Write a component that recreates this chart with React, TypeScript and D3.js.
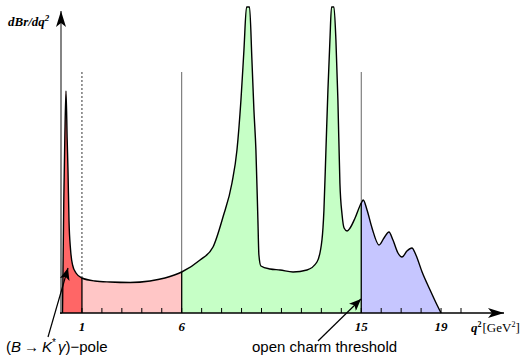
import * as d3 from "d3";
import {useRef, useEffect} from "react";

// curve (q^2 in GeV^2, dBr/dq^2 in arbitrary units)
const curveQ = [
  0.025, 0.05, 0.09, 0.14, 0.2, 0.26, 0.3, 0.35, 0.43, 0.53, 0.7, 1.0,
  1.65, 2.41, 3.41, 4.41, 5.16, 6.0,
  6.92, 7.57, 8.07, 8.52, 8.77, 8.97, 9.12, 9.25, 9.4, 9.52, 9.62, 9.72, 9.82, 9.87, 9.97,
  10.43, 10.93, 11.58, 12.28, 12.78, 13.03, 13.13, 13.23, 13.33, 13.43, 13.51, 13.63, 13.73,
  13.83, 13.93, 14.04, 14.14, 14.29, 14.44, 14.69, 15.0,
  15.1, 15.29, 15.54, 15.89, 16.14, 16.39, 16.59, 16.84, 17.04, 17.29, 17.54, 17.74, 18.05,
  18.45, 18.8, 19.0
];
const curveV = [
  0, 43, 113, 173, 222, 173, 143, 93, 63, 48, 40, 35,
  32, 31, 30.5, 32, 35, 41,
  53, 66, 96, 130, 163, 213, 263, 306, 306, 253, 203, 163, 93, 58, 47,
  44, 43, 41, 43, 51, 73, 103, 163, 223, 273, 306, 306, 273,
  213, 130, 98, 85, 82, 85, 95, 110,
  113, 103, 85, 68, 75, 81, 73, 60, 56, 62, 65, 58, 41,
  23, 8, 0
];
const regionEdges = [0, 1, 6, 15, 19];
const regionColors = ["#ff6666", "#ffc6c6", "#c6ffc6", "#c6c6ff"];
const tickValues = d3.range(1, 21);
const tickLabels = [1, 6, 15, 19];
const markerLines = [1, 6, 15]; // dashed, solid, solid

const Chart = () => {
  const ref = useRef<SVGSVGElement>(null);

  useEffect(() => {
    const width = 526, height = 359;
    const svg = d3.select(ref.current);
    svg.selectAll("*").remove();

    const x = d3.scaleLinear().domain([0, 20]).range([62, 461]);
    const y = d3.scaleLinear().domain([0, 306]).range([313, 7]);
    const data = curveQ.map((q, i) => ({q, v: curveV[i]}));
    const valueAt = (q: number) => data.find(d => Math.abs(d.q - q) < 1e-6)!.v;

    const defs = svg.append("defs");
    defs.append("marker")
      .attr("id", "ah")
      .attr("viewBox", "0 0 12 10")
      .attr("refX", 12).attr("refY", 5)
      .attr("markerWidth", 12).attr("markerHeight", 10)
      .attr("markerUnits", "userSpaceOnUse")
      .attr("orient", "auto")
      .append("path").attr("d", "M0,0L12,5L0,10L3,5Z").attr("fill", "#000");
    defs.append("marker")
      .attr("id", "axh")
      .attr("viewBox", "0 0 16 10")
      .attr("refX", 16).attr("refY", 5)
      .attr("markerWidth", 16).attr("markerHeight", 10)
      .attr("markerUnits", "userSpaceOnUse")
      .attr("orient", "auto")
      .append("path").attr("d", "M0,0L16,5L0,10L4,5Z").attr("fill", "#000");

    // guide lines above the curve
    svg.append("g")
      .selectAll("line")
      .data(markerLines)
      .join("line")
      .attr("x1", d => x(d)).attr("x2", d => x(d))
      .attr("y1", 72).attr("y2", y(0))
      .attr("stroke", (d, i) => i === 0 ? "#000" : "#666")
      .attr("stroke-width", (d, i) => i === 0 ? 0.8 : 1)
      .attr("stroke-dasharray", (d, i) => i === 0 ? "2,2" : null);

    // filled regions, clipped from one area
    const area = d3.area<any>()
      .x(d => x(d.q)).y0(y(0)).y1(d => y(d.v))
      .curve(d3.curveMonotoneX);
    regionColors.forEach((c, i) => {
      const id = "clip" + i;
      defs.append("clipPath").attr("id", id)
        .append("rect")
        .attr("x", x(regionEdges[i]) - (i === 0 ? 5 : 0))
        .attr("y", 0)
        .attr("width", x(regionEdges[i + 1]) - x(regionEdges[i]) + (i === 0 ? 5 : 0))
        .attr("height", height);
      svg.append("path")
        .attr("d", area(data))
        .attr("fill", c)
        .attr("clip-path", `url(#${id})`);
    });

    // region boundaries
    svg.append("g")
      .selectAll("line")
      .data(markerLines)
      .join("line")
      .attr("x1", d => x(d)).attr("x2", d => x(d))
      .attr("y1", d => y(valueAt(d))).attr("y2", y(0))
      .attr("stroke", "#000")
      .attr("stroke-width", 1.3);

    // curve outline
    svg.append("path")
      .attr("d", d3.line<any>().x(d => x(d.q)).y(d => y(d.v)).curve(d3.curveMonotoneX)(data))
      .attr("fill", "none")
      .attr("stroke", "#000")
      .attr("stroke-width", 1.4)
      .attr("stroke-linejoin", "round");

    // axes
    svg.append("line")
      .attr("x1", 61).attr("x2", 61).attr("y1", y(0) + 1).attr("y2", 11)
      .attr("stroke", "#666").attr("stroke-width", 1.6)
      .attr("marker-end", "url(#axh)");
    svg.append("line")
      .attr("x1", 60).attr("x2", 504).attr("y1", y(0)).attr("y2", y(0))
      .attr("stroke", "#000").attr("stroke-width", 1.4)
      .attr("marker-end", "url(#axh)");

    svg.append("g")
      .selectAll("line")
      .data(tickValues)
      .join("line")
      .attr("x1", d => x(d)).attr("x2", d => x(d))
      .attr("y1", y(0)).attr("y2", y(0) - 5)
      .attr("stroke", "#000").attr("stroke-width", 1);

    svg.append("g")
      .attr("font-family", "'Liberation Serif', serif")
      .attr("font-weight", "bold")
      .attr("font-style", "italic")
      .attr("font-size", 13)
      .attr("text-anchor", "middle")
      .selectAll("text")
      .data(tickLabels)
      .join("text")
      .attr("x", d => x(d))
      .attr("y", 331)
      .text(d => d);

    // y label
    const yl = svg.append("text")
      .attr("x", 8).attr("y", 26)
      .attr("font-family", "'Liberation Serif', serif")
      .attr("font-weight", "bold").attr("font-style", "italic")
      .attr("font-size", 13);
    yl.append("tspan").text("dBr/dq");
    yl.append("tspan").attr("dy", -5).attr("font-size", 9).text("2");

    // x label
    const xl = svg.append("text")
      .attr("x", 471).attr("y", 332)
      .attr("font-family", "'Liberation Serif', serif")
      .attr("font-size", 13);
    xl.append("tspan").attr("font-weight", "bold").attr("font-style", "italic").text("q");
    xl.append("tspan").attr("dy", -5).attr("font-size", 8).attr("font-weight", "bold").text("2");
    xl.append("tspan").attr("dy", 5).attr("dx", 1).text("[GeV");
    xl.append("tspan").attr("dy", -5).attr("font-size", 8).text("2");
    xl.append("tspan").attr("dy", 5).text("]");

    // annotations
    svg.append("line")
      .attr("x1", 48).attr("y1", 337).attr("x2", 68).attr("y2", 268)
      .attr("stroke", "#000").attr("stroke-width", 1.2)
      .attr("marker-end", "url(#ah)");
    svg.append("line")
      .attr("x1", 318).attr("y1", 341).attr("x2", 361).attr("y2", 299)
      .attr("stroke", "#000").attr("stroke-width", 1.2)
      .attr("marker-end", "url(#ah)");

    const pole = svg.append("text")
      .attr("x", 6).attr("y", 352)
      .attr("font-family", "'Liberation Sans', sans-serif")
      .attr("font-size", 15);
    pole.append("tspan").text("(");
    pole.append("tspan").attr("font-style", "italic").text("B");
    pole.append("tspan").attr("dx", 3).text("→");
    pole.append("tspan").attr("dx", 3).attr("font-style", "italic").text("K");
    pole.append("tspan").attr("dy", -6).attr("font-size", 10).text("*");
    pole.append("tspan").attr("dy", 6).attr("dx", 2).attr("font-style", "italic").text("γ");
    pole.append("tspan").text(")−pole");

    svg.append("text")
      .attr("x", 252).attr("y", 352)
      .attr("font-family", "'Liberation Sans', sans-serif")
      .attr("font-size", 15)
      .text("open charm threshold");
  }, []);

  return <svg ref={ref} width={526} height={359}
              style={{position: "absolute", left: 0, top: 0, background: "#fff"}}/>;
};

export default function App() {
  return <Chart/>;
}
